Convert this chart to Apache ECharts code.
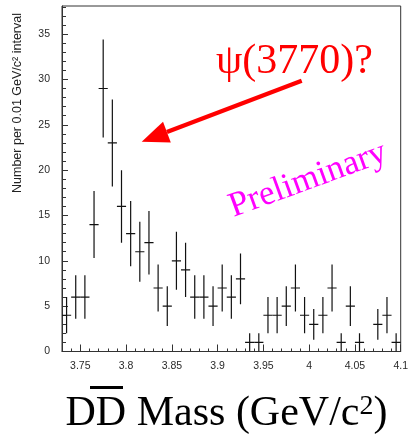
<!DOCTYPE html>
<html>
<head>
<meta charset="utf-8">
<script src="https://cdn.jsdelivr.net/npm/echarts@6/dist/echarts.min.js"></script>
<style>
html,body{margin:0;padding:0;background:#fff;}
#chart{width:411px;height:437px;}
</style>
</head>
<body>
<div id="chart"></div>
<script>
// Bin centres (GeV/c^2), bin width 0.01
const massBins = [3.735,3.745,3.755,3.765,3.775,3.785,3.795,3.805,3.815,3.825,
  3.835,3.845,3.855,3.865,3.875,3.885,3.895,3.905,3.915,3.925,
  3.935,3.945,3.955,3.965,3.975,3.985,3.995,4.005,4.015,4.025,
  4.035,4.045,4.055,4.065,4.075,4.085,4.095];
const counts = [4,6,6,14,29,23,16,13,11,12,
  7,5,10,9,6,6,5,7,6,8,
  1,1,4,4,5,7,4,3,4,7,
  1,5,1,0,3,4,1];
const errors = [2.0,2.4,2.4,3.7,5.4,4.8,4.0,3.6,3.3,3.5,
  2.6,2.2,3.2,3.0,2.4,2.4,2.2,2.6,2.4,2.8,
  1.0,1.0,2.0,2.0,2.2,2.6,2.0,1.7,2.0,2.6,
  1.0,2.2,1.0,0,1.7,2.0,1.0];
const binWidth = 0.01;
const xTickLabels = [3.75,3.8,3.85,3.9,3.95,4.0,4.05,4.1];
const yTickLabels = [0,5,10,15,20,25,30,35];
const xMin = 3.73, xMax = 4.10, yMin = 0, yMax = 38.1;

const xMinorTicks = [];
for (let i = 0; i <= 37; i++) xMinorTicks.push(+(3.73 + i * 0.01).toFixed(2));
const yMinorTicks = [];
for (let i = 0; i <= 38; i++) yMinorTicks.push(i);

const data = massBins.map((m, i) => [m, counts[i], errors[i]]);

const chart = echarts.init(document.getElementById('chart'), null, {renderer: 'canvas'});
const labelStyle = {fontFamily: 'Liberation Sans', fontSize: 10.5, color: '#2a2a2a'};
const axisLineStyle = {color: '#333', width: 1};

chart.setOption({
  animation: false,
  backgroundColor: '#fff',
  grid: {left: 62, right: 6, top: 6, bottom: 85.5, show: true, borderColor: '#333', borderWidth: 1, backgroundColor: 'transparent'},
  xAxis: [
    {type: 'value', min: xMin, max: xMax, position: 'bottom',
      axisLine: {show: true, lineStyle: axisLineStyle},
      axisTick: {show: true, inside: true, length: 7, customValues: xTickLabels, lineStyle: axisLineStyle},
      axisLabel: Object.assign({show: true, margin: 9, customValues: xTickLabels,
        formatter: v => String(+(+v).toFixed(2))}, labelStyle),
      splitLine: {show: false}},
    {type: 'value', min: xMin, max: xMax, position: 'bottom',
      axisLine: {show: false},
      axisTick: {show: true, inside: true, length: 3, customValues: xMinorTicks, lineStyle: axisLineStyle},
      axisLabel: {show: false},
      splitLine: {show: false}}
  ],
  yAxis: [
    {type: 'value', min: yMin, max: yMax, position: 'left',
      axisLine: {show: true, lineStyle: axisLineStyle},
      axisTick: {show: true, inside: true, length: 6, customValues: yTickLabels, lineStyle: axisLineStyle},
      axisLabel: Object.assign({show: true, margin: 12, customValues: yTickLabels}, labelStyle),
      splitLine: {show: false}},
    {type: 'value', min: yMin, max: yMax, position: 'left',
      axisLine: {show: false},
      axisTick: {show: true, inside: true, length: 4, customValues: yMinorTicks, lineStyle: axisLineStyle},
      axisLabel: {show: false},
      splitLine: {show: false}}
  ],
  series: [{
    type: 'custom',
    xAxisIndex: 0, yAxisIndex: 0,
    clip: true,
    data: data,
    renderItem: function (params, api) {
      const x = api.value(0), y = api.value(1), e = api.value(2);
      if (y === 0) return null;
      const c = api.coord([x, y]);
      const l = api.coord([x - binWidth / 2, y]);
      const r = api.coord([x + binWidth / 2, y]);
      const t = api.coord([x, y + e]);
      const b = api.coord([x, Math.max(y - e, 0)]);
      const st = {stroke: '#111', lineWidth: 1.2};
      return {type: 'group', children: [
        {type: 'line', shape: {x1: l[0], y1: c[1], x2: r[0], y2: c[1]}, style: st},
        {type: 'line', shape: {x1: c[0], y1: t[1], x2: c[0], y2: b[1]}, style: st}
      ]};
    }
  }],
  graphic: [
    {type: 'text', x: 18, y: 103, rotation: Math.PI / 2,
      style: {text: 'Number per 0.01 GeV/c² interval', fontFamily: 'Liberation Sans', fontSize: 12.5,
        fill: '#222', align: 'center', verticalAlign: 'middle'}},
    {type: 'text', x: 294.5, y: 62, 
      style: {text: 'ψ(3770)?', fontFamily: 'Liberation Serif', fontSize: 42, fill: '#ff0000',
        align: 'center', verticalAlign: 'middle'}},
    {type: 'line', shape: {x1: 301.7, y1: 80.7, x2: 166.9, y2: 132.1},
      style: {stroke: '#ff0000', lineWidth: 4.3}},
    {type: 'polygon', shape: {points: [[141.7, 141.7], [163.0, 121.8], [170.8, 142.4]]},
      style: {fill: '#ff0000'}},
    {type: 'text', x: 308, y: 180, rotation: 0.35,
      style: {text: 'Preliminary', fontFamily: 'Liberation Serif', fontSize: 35, fill: '#ff00ff',
        align: 'center', verticalAlign: 'middle'}},
    {type: 'text', x: 226.5, y: 414,
      style: {text: 'DD Mass (GeV/c{s|2})', fontFamily: 'Liberation Serif', fontSize: 42, fill: '#000',
        align: 'center', verticalAlign: 'middle',
        rich: {s: {fontFamily: 'Liberation Serif', fontSize: 28, fill: '#000', verticalAlign: 'top', lineHeight: 30, padding: [0, 0, 13, 0]}}}},
    {type: 'rect', shape: {x: 90, y: 386, width: 33, height: 3}, style: {fill: '#000'}}
  ]
});
</script>
</body>
</html>
